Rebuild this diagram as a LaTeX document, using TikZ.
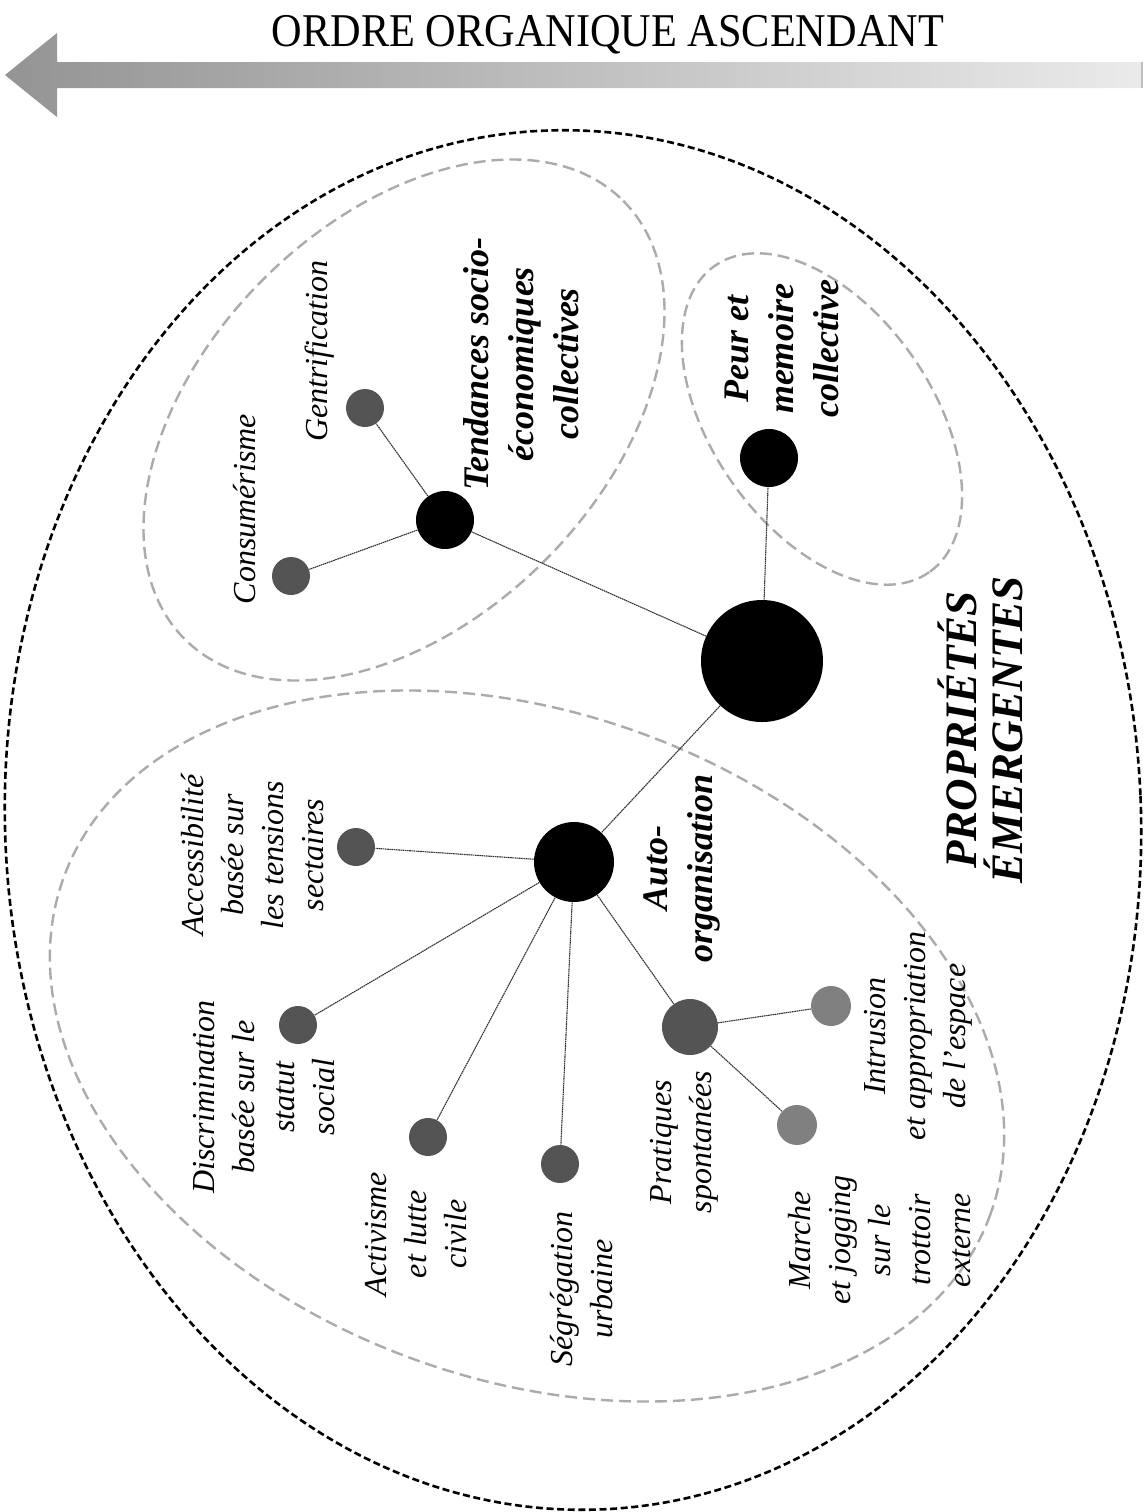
\documentclass[tikz,border=0pt]{standalone}
\usepackage{fontspec}
\setmainfont{Liberation Serif}
\begin{document}
\begin{tikzpicture}[x=0.5pt,y=-0.5pt,
  lab/.style={rotate=90, align=center, inner sep=0pt, font=\fontsize{16}{20}\selectfont\itshape},
  blab/.style={rotate=90, align=center, inner sep=0pt, font=\fontsize{18}{22.5}\selectfont\bfseries\itshape},
  blk/.style={circle, fill=black, inner sep=0pt, minimum size=#1},
  dk/.style={circle, fill=black!67, inner sep=0pt, minimum size=#1},
  lt/.style={circle, fill=black!50, inner sep=0pt, minimum size=#1},
  link/.style={draw=black!80, line width=0.55pt, dash pattern=on 0.8pt off 0.3pt},
  outerell/.style={draw=black, line width=1.3pt, dash pattern=on 3.5pt off 1.8pt},
  grayell/.style={draw=black!33, line width=1.2pt, dash pattern=on 6pt off 3pt}
]
\useasboundingbox (0,0) rectangle (1147,1512);
\fill[white] (0,0) rectangle (1147,1512);

% top arrow and title
\shade[left color=black!42, right color=black!8] (5,75) -- (57,33) -- (57,62) -- (1142,62) -- (1142,88) -- (57,88) -- (57,117) -- cycle;
\draw[black!25, line width=0.8pt] (1142,62) -- (1142,88);
\node[anchor=base, inner sep=0pt, font=\fontsize{23.5}{23.5}\selectfont] (title) at (608,46) {\scalebox{0.9}[1]{ORDRE ORGANIQUE ASCENDANT}};

% ellipses
\draw[outerell, rotate around={2.4:(573,820)}] (573,820) ellipse [x radius=568, y radius=690];
\draw[grayell, rotate around={45:(404,420)}] (404,420) ellipse [x radius=310, y radius=199];
\draw[grayell, rotate around={-55:(822,419)}] (822,419) ellipse [x radius=187, y radius=110];
\draw[grayell, rotate around={-20:(527,1046)}] (527,1046) ellipse [x radius=493, y radius=333];

% nodes
\node[blk=61pt] (big) at (762,661) {};
\node[blk=29pt] (tend) at (445,520) {};
\node[dk=19pt] (gent) at (365,408) {};
\node[dk=19pt] (cons) at (291,576) {};
\node[blk=29pt] (peur) at (769,458) {};
\node[blk=40pt] (auto) at (574,862) {};
\node[dk=19pt] (acc) at (356,847) {};
\node[dk=19pt] (disc) at (298,1025) {};
\node[dk=19pt] (act) at (428,1137) {};
\node[dk=19pt] (seg) at (560,1164) {};
\node[dk=28pt] (prat) at (690,1027) {};
\node[lt=20pt] (intr) at (831,1006) {};
\node[lt=20pt] (march) at (797,1125) {};

% connectors
\draw[link] (big) -- (tend);
\draw[link] (big) -- (peur);
\draw[link] (big) -- (auto);
\draw[link] (tend) -- (gent);
\draw[link] (tend) -- (cons);
\draw[link] (auto) -- (acc);
\draw[link] (auto) -- (disc);
\draw[link] (auto) -- (act);
\draw[link] (auto) -- (seg);
\draw[link] (auto) -- (prat);
\draw[link] (prat) -- (intr);
\draw[link] (prat) -- (march);

% labels
\node[lab] (lgent) at (320,351) {Gentrification};
\node[lab] (lcons) at (245,509) {Consumérisme};
\node[blab] (ltend) at (521,364) {Tendances socio-\\économiques\\collectives};
\node[blab] (lpeur) at (782,349) {Peur et\\memoire\\collective};
\node[lab] (lacc) at (253,855) {Accessibilité\\basée sur\\les tensions\\sectaires};
\node[lab] (ldisc) at (264,1097) {Discrimination\\basée sur le\\statut\\social};
\node[lab] (lact) at (416,1234) {Activisme\\et lutte\\civile};
\node[lab] (lseg) at (582,1289) {Ségrégation\\urbaine};
\node[lab] (lprat) at (684,1142) {Pratiques\\spontanées};
\node[blab] (lauto) at (682,868) {Auto-\\organisation};
\node[lab] (lmarch) at (880,1240) {Marche\\et jogging\\sur le\\trottoir\\externe};
\node[lab] (lintr) at (918,1036) {Intrusion\\et appropriation\\de l’espace};
\node[rotate=90, align=center, inner sep=0pt, font=\fontsize{22.5}{23}\selectfont\bfseries\itshape] (lprop) at (980,730) {PROPRIÉTÉS\\ÉMERGENTES};
\end{tikzpicture}
\end{document}
